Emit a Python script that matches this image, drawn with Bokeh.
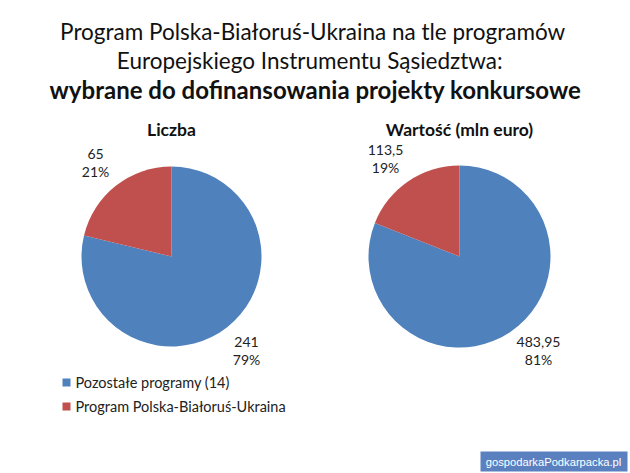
import math
from bokeh.plotting import figure
from bokeh.models import Range1d, ColumnDataSource
from bokeh.core.properties import value
from bokeh.embed import file_html
from bokeh.resources import INLINE

# ---- data ----
title_lines = ["Program Polska-Białoruś-Ukraina  na tle programów",
               "Europejskiego  Instrumentu  Sąsiedztwa:",
               "wybrane do dofinansowania projekty konkursowe"]
pie_titles = ["Liczba", "Wartość (mln euro)"]
categories = ["Pozostałe programy (14)", "Program Polska-Białoruś-Ukraina"]
count_values = [241, 65]
value_values = [483.95, 113.5]
count_labels = ["241", "65"]
value_labels = ["483,95", "113,5"]
colors = ["#4F81BD", "#C0504D"]
watermark = "gospodarkaPodkarpacka.pl"

W, H = 630, 473
FONT = "Lato"

p = figure(width=W, height=H, output_backend="svg", toolbar_location=None,
           x_range=Range1d(0, W), y_range=Range1d(0, H), min_border=0)
p.axis.visible = False
p.grid.visible = False
p.outline_line_color = None
p.background_fill_color = "white"
p.border_fill_color = "white"

def Y(y):
    return H - y

# title
for i, (line, yy, fs) in enumerate(zip(title_lines, [31, 60, 89], ["22.5px", "22.5px", "24px"])):
    p.text(x=[W / 2], y=[Y(yy)], text=[line], text_align="center",
           text_baseline="middle", text_font=value(FONT),
           text_font_size=fs,
           text_font_style="bold" if i == 2 else "normal", text_color="#111111")

# pies
pies = [
    dict(cx=171, cy=256, r=90, vals=count_values, labs=count_labels,
         lab_pos=[(246, 341), (95, 153)]),
    dict(cx=459, cy=256, r=91, vals=value_values, labs=value_labels,
         lab_pos=[(538, 341), (385, 149)]),
]
for pie, ttl in zip(pies, pie_titles):
    total = sum(pie["vals"])
    start = math.pi / 2
    starts, ends = [], []
    for v in pie["vals"]:
        ang = 2 * math.pi * v / total
        # clockwise from 12 o'clock
        ends.append(start)
        starts.append(start - ang)
        start -= ang
    src = ColumnDataSource(dict(x=[pie["cx"]] * len(starts), y=[Y(pie["cy"])] * len(starts),
                                s=starts, e=ends, c=colors))
    p.wedge(x="x", y="y", radius=pie["r"], start_angle="s", end_angle="e",
            fill_color="c", line_color=None, source=src)
    p.text(x=[pie["cx"]], y=[Y(129)], text=[ttl], text_align="center",
           text_baseline="middle", text_font=value(FONT), text_font_size="17.5px",
           text_font_style="bold", text_color="#111111")
    for v, lab, (lx, ly) in zip(pie["vals"], pie["labs"], pie["lab_pos"]):
        pct = f"{round(100 * v / total)}%"
        p.text(x=[lx, lx], y=[Y(ly), Y(ly + 18)], text=[lab, pct], text_align="center",
               text_baseline="middle", text_font=value(FONT), text_font_size="14px",
               text_color="#222222")

# legend
for i, (cat, col) in enumerate(zip(categories, colors)):
    yy = 382 + i * 24
    p.rect(x=[66], y=[Y(yy)], width=8, height=8, fill_color=col, line_color=None)
    p.text(x=[75], y=[Y(yy)], text=[cat], text_align="left", text_baseline="middle",
           text_font=value(FONT), text_font_size="14.5px", text_color="#222222")

# watermark
p.rect(x=[(480 + 627) / 2], y=[Y(461)], width=147, height=20,
       fill_color="#5B80C0", line_color=None)
p.text(x=[553], y=[Y(461)], text=[watermark], text_align="center", text_baseline="middle",
       text_font=value("Liberation Sans"), text_font_size="11.2px", text_color="white")

open("out.html", "w").write(file_html(p, INLINE))
